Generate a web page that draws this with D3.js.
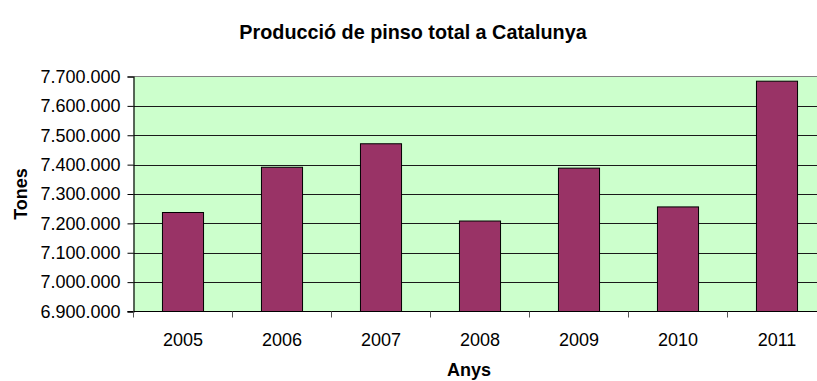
<!DOCTYPE html>
<html>
<head>
<meta charset="utf-8">
<script src="https://cdn.jsdelivr.net/npm/d3@7"></script>
<style>
  html, body { margin: 0; padding: 0; background: #ffffff; }
  svg { display: block; font-family: "Liberation Sans", Arial, sans-serif; }
</style>
</head>
<body>
<svg id="chart" width="817" height="381"></svg>
<script>
// Feed production in Catalonia, tonnes per year
const years = ["2005", "2006", "2007", "2008", "2009", "2010", "2011"];
const tonnes = [7237000, 7391000, 7471000, 7208000, 7388000, 7256000, 7684000];
const yTicks = [6900000, 7000000, 7100000, 7200000, 7300000, 7400000, 7500000, 7600000, 7700000];

const chartTitle = "Producció de pinso total a Catalunya";
const xTitle = "Anys";
const yTitle = "Tones";

const svg = d3.select("#chart");
const plot = { left: 133.5, right: 826.5, top: 76.5, bottom: 311.5 };

const locale = d3.formatLocale({ decimal: ",", thousands: ".", grouping: [3], currency: ["", " €"] });
const fmt = locale.format(",d");

const x = d3.scaleBand()
  .domain(years)
  .range([plot.left, plot.right])
  .paddingInner(0.585)
  .paddingOuter(0.2925);

const y = d3.scaleLinear()
  .domain([6900000, 7700000])
  .range([plot.bottom, plot.top]);

// plot background
svg.append("rect")
  .attr("x", plot.left).attr("y", plot.top)
  .attr("width", plot.right - plot.left).attr("height", plot.bottom - plot.top)
  .attr("fill", "#ccffcc");

// top border of the plot area
svg.append("line")
  .attr("x1", plot.left).attr("x2", plot.right)
  .attr("y1", plot.top).attr("y2", plot.top)
  .attr("stroke", "#808080").attr("stroke-width", 1.2);

// horizontal gridlines
svg.append("g")
  .selectAll("line")
  .data(yTicks.filter(d => d > 6900000 && d < 7700000))
  .join("line")
  .attr("x1", plot.left).attr("x2", plot.right)
  .attr("y1", d => Math.round(y(d)) + 0.5).attr("y2", d => Math.round(y(d)) + 0.5)
  .attr("stroke", "#1a1a1a").attr("stroke-width", 1);

// bars
svg.append("g")
  .selectAll("rect")
  .data(years.map((yr, i) => ({ yr, v: tonnes[i] })))
  .join("rect")
  .attr("x", d => x(d.yr))
  .attr("y", d => y(d.v))
  .attr("width", x.bandwidth())
  .attr("height", d => y(6900000) - y(d.v))
  .attr("fill", "#993366")
  .attr("stroke", "#000")
  .attr("stroke-width", 1);

// y axis
const yAxis = d3.axisLeft(y)
  .tickValues(yTicks)
  .tickFormat(fmt)
  .tickSize(6)
  .tickPadding(7);
const gy = svg.append("g")
  .attr("transform", `translate(${plot.left},0)`)
  .call(yAxis);
gy.select(".domain").attr("stroke", "#000").attr("stroke-width", 1.2);
gy.selectAll(".tick line").attr("stroke", "#000");
gy.selectAll(".tick text")
  .attr("font-size", 18)
  .attr("fill", "#000")
  .attr("font-family", "'Liberation Sans', Arial, sans-serif");

// x axis: ticks at category boundaries, labels centred in each band
const boundaries = years.map(yr => x(yr) - x.step() * x.paddingOuter());
const gx = svg.append("g");
gx.append("line")
  .attr("x1", plot.left - 6).attr("x2", plot.right)
  .attr("y1", plot.bottom).attr("y2", plot.bottom)
  .attr("stroke", "#000").attr("stroke-width", 1.2);
gx.selectAll("line.tk")
  .data(boundaries)
  .join("line")
  .attr("class", "tk")
  .attr("x1", d => d).attr("x2", d => d)
  .attr("y1", plot.bottom).attr("y2", plot.bottom + 6)
  .attr("stroke", "#555").attr("stroke-width", 1);
gx.selectAll("text")
  .data(years)
  .join("text")
  .attr("x", d => x(d) + x.bandwidth() / 2)
  .attr("y", 346)
  .attr("text-anchor", "middle")
  .attr("font-size", 18)
  .attr("fill", "#000")
  .text(d => d);

// titles
svg.append("text")
  .attr("x", 413).attr("y", 39)
  .attr("text-anchor", "middle")
  .attr("font-size", 19.8).attr("font-weight", "bold")
  .text(chartTitle);

svg.append("text")
  .attr("x", 469).attr("y", 376)
  .attr("text-anchor", "middle")
  .attr("font-size", 18).attr("font-weight", "bold")
  .text(xTitle);

svg.append("text")
  .attr("transform", `translate(27,194) rotate(-90)`)
  .attr("text-anchor", "middle")
  .attr("font-size", 18).attr("font-weight", "bold")
  .text(yTitle);
</script>
</body>
</html>
